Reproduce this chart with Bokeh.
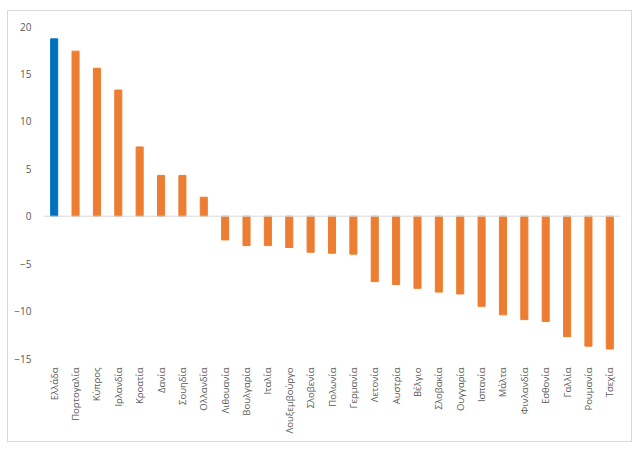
from math import pi
from bokeh.plotting import figure
from bokeh.models import ColumnDataSource, Span, FixedTicker, FactorRange, Range1d
from bokeh.embed import file_html
from bokeh.resources import INLINE

countries = ["Ελλάδα", "Πορτογαλία", "Κύπρος", "Ιρλανδία", "Κροατία", "Δανία",
             "Σουηδία", "Ολλανδία", "Λιθουανία", "Βουλγαρία", "Ιταλία",
             "Λουξεμβούργο", "Σλοβενία", "Πολωνία", "Γερμανία", "Λετονία",
             "Αυστρία", "Βέλγιο", "Σλοβακία", "Ουγγαρία", "Ισπανία", "Μάλτα",
             "Φινλανδία", "Εσθονία", "Γαλλία", "Ρουμανία", "Τσεχία"]
values = [18.7, 17.4, 15.6, 13.3, 7.3, 4.3, 4.3, 2.0, -2.5, -3.1, -3.1,
          -3.3, -3.8, -3.9, -4.0, -6.9, -7.2, -7.6, -8.0, -8.2, -9.5, -10.4,
          -10.9, -11.1, -12.7, -13.7, -14.0]
y_ticks = [-15, -10, -5, 0, 5, 10, 15, 20]
highlight = "Ελλάδα"

colors = ["#0070C0" if c == highlight else "#ED7D31" for c in countries]
src = ColumnDataSource(dict(x=countries, top=values, color=colors))

p = figure(x_range=FactorRange(*countries, range_padding=0),
           y_range=Range1d(-15, 20),
           width=625, height=432, output_backend="svg", toolbar_location=None,
           min_border_left=35, min_border_right=13, min_border_top=15,
           min_border_bottom=85)
p.margin = (10, 0, 0, 7)
p.styles = {"border": "1px solid #d9d9d9"}
p.outline_line_color = None
p.grid.visible = False

p.vbar(x="x", top="top", bottom=0, width=0.33, color="color", source=src)
p.add_layout(Span(location=0, dimension="width", line_color="#d9d9d9", line_width=1))

font = "Open Sans"
p.yaxis.ticker = FixedTicker(ticks=y_ticks)
p.yaxis.axis_line_color = None
p.yaxis.major_tick_line_color = None
p.yaxis.minor_tick_line_color = None
p.yaxis.major_label_text_font = font
p.yaxis.major_label_text_font_size = "10px"
p.yaxis.major_label_text_color = "#595959"
p.yaxis.major_label_standoff = 6

p.xaxis.axis_line_color = None
p.xaxis.major_tick_line_color = None
p.xaxis.minor_tick_line_color = None
p.xaxis.major_label_orientation = pi / 2
p.xaxis.major_label_text_font = font
p.xaxis.major_label_text_font_size = "9.5px"
p.xaxis.major_label_text_color = "#595959"
p.xaxis.major_label_standoff = 3

open("out.html", "w").write(file_html(p, INLINE))
